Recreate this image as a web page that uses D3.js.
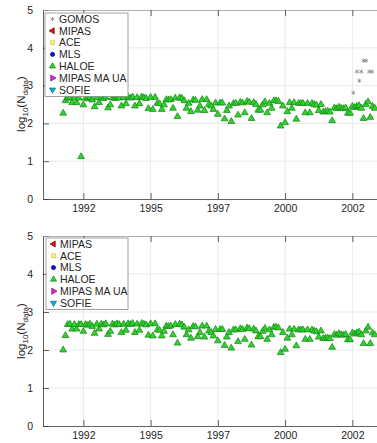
<!DOCTYPE html>
<html><head><meta charset="utf-8">
<script src="https://cdn.jsdelivr.net/npm/d3@7"></script>
<style>
body{margin:0;background:#fff}
text{font-family:"Liberation Sans",Arial,Helvetica,sans-serif;fill:#262626}
</style>
</head><body>
<svg id="c" width="377" height="443"></svg>
<script>
// ---------- data ----------
const haloeStart = 1991.75; // first HALOE month (Oct 1991), monthly values follow
const haloeTop = [
2.27,2.60,2.67,2.68,2.55,2.67,2.55,2.67,1.12,2.49,2.67,2.65,2.68,2.62,2.44,2.68,2.55,2.68,2.66,2.69,
2.41,2.49,2.68,2.66,2.69,2.67,2.46,2.68,2.52,2.69,2.67,2.70,2.46,2.68,2.52,2.70,2.68,2.66,2.39,2.69,
2.37,2.69,2.53,2.52,2.37,2.49,2.63,2.62,2.63,2.40,2.67,2.18,2.68,2.66,2.60,2.40,2.53,2.31,2.62,2.61,
2.35,2.46,2.63,2.34,2.63,2.50,2.46,2.37,2.54,2.24,2.54,2.54,2.12,2.34,2.46,2.05,2.53,2.53,2.22,2.56,
2.54,2.28,2.58,2.56,2.13,2.55,2.50,2.35,2.35,2.49,2.57,2.28,2.53,2.40,2.60,2.60,2.58,1.93,2.46,2.02,
2.31,2.55,2.40,2.55,2.11,2.53,2.53,2.53,2.28,2.53,2.28,2.53,2.50,2.48,2.34,2.50,2.30,2.31,2.32,2.30,
2.07,2.41,2.39,2.43,2.40,2.39,2.41,2.27,2.27,2.45,2.42,2.45,2.47,2.40,2.13,2.50,2.57,2.16,2.45,2.40
];
const haloeBottom = [
2.00,2.38,2.67,2.68,2.55,2.67,2.55,2.67,2.67,2.49,2.67,2.65,2.68,2.62,2.44,2.68,2.55,2.68,2.66,2.69,
2.41,2.49,2.68,2.66,2.69,2.67,2.46,2.68,2.52,2.69,2.67,2.70,2.46,2.68,2.52,2.70,2.68,2.66,2.39,2.69,
2.37,2.69,2.53,2.52,2.37,2.49,2.63,2.62,2.63,2.40,2.67,2.18,2.68,2.66,2.60,2.40,2.53,2.31,2.62,2.61,
2.35,2.46,2.63,2.34,2.63,2.50,2.46,2.37,2.54,2.24,2.54,2.54,2.12,2.34,2.46,2.05,2.53,2.53,2.22,2.56,
2.54,2.28,2.58,2.56,2.13,2.55,2.50,2.35,2.35,2.49,2.57,2.28,2.53,2.40,2.60,2.60,2.58,1.93,2.46,2.02,
2.31,2.55,2.40,2.55,2.11,2.53,2.53,2.53,2.28,2.53,2.28,2.53,2.50,2.48,2.34,2.50,2.30,2.31,2.32,2.30,
2.07,2.41,2.39,2.43,2.40,2.39,2.41,2.27,2.27,2.45,2.42,2.45,2.47,2.40,2.17,2.50,2.60,2.17,2.45,2.40
];
const gomosYears  = [2002.54, 2002.67, 2002.76, 2002.83, 2002.92, 2003.01, 2003.13, 2003.23];
const gomosValues = [2.81, 3.37, 3.13, 3.37, 3.66, 3.66, 3.37, 3.37];
const xTickValues = [1992.5, 1995, 1997.5, 2000, 2002.5];
const xTickLabels = ["1992", "1995", "1997", "2000", "2002"];
const yTickValues = [0, 1, 2, 3, 4, 5];
const legendTop    = ["GOMOS", "MIPAS", "ACE", "MLS", "HALOE", "MIPAS MA UA", "SOFIE"];
const legendBottom = ["MIPAS", "ACE", "MLS", "HALOE", "MIPAS MA UA", "SOFIE"];

// ---------- styles ----------
const markerStyle = {
  "GOMOS":       {shape:"asterisk", fill:"none",    stroke:"#6e6e6e"},
  "MIPAS":       {shape:"left",     fill:"#cc1a1a", stroke:"#8a0000"},
  "ACE":         {shape:"square",   fill:"#fff6a8", stroke:"#d6bc00"},
  "MLS":         {shape:"circle",   fill:"#1414d2", stroke:"#00008a"},
  "HALOE":       {shape:"up",       fill:"#33cf33", stroke:"#0b860b"},
  "MIPAS MA UA": {shape:"right",    fill:"#d22ed2", stroke:"#8a008a"},
  "SOFIE":       {shape:"down",     fill:"#22a9cc", stroke:"#006f8a"}
};
const rot = {up:0, right:90, down:180, left:270};

const svg = d3.select("#c");
const W = 377;
const xL = 43, pxPerYear = 26.9;
const x = d3.scaleLinear().domain([1991, 1991 + (W + 6 - xL) / pxPerYear]).range([xL, W + 6]);

const panels = [
  {top:10, bottom:199, halo:haloeTop, gomos:true, legend:legendTop, lg:{x:45, y:13, w:83}, labelY:104},
  {top:236, bottom:426, halo:haloeBottom, gomos:false, legend:legendBottom, lg:{x:46, y:238, w:82}, labelY:331}
];

function marker(g, name, cx, cy, size) {
  const s = markerStyle[name];
  let type, r = 0;
  if (s.shape === "asterisk") type = d3.symbolAsterisk;
  else if (s.shape === "square") type = d3.symbolSquare;
  else if (s.shape === "circle") type = d3.symbolCircle;
  else { type = d3.symbolTriangle; r = rot[s.shape]; }
  return g.append("path")
    .attr("d", d3.symbol().type(type).size(size)())
    .attr("transform", `translate(${cx},${cy}) rotate(${r})`)
    .attr("fill", s.fill).attr("stroke", s.stroke)
    .attr("stroke-width", s.shape === "asterisk" ? 0.6 : 0.7);
}

panels.forEach((p, pi) => {
  const y = d3.scaleLinear().domain([0, 5]).range([p.bottom, p.top]);
  const g = svg.append("g");
  const clipId = "clip" + pi;
  svg.append("clipPath").attr("id", clipId).append("rect")
    .attr("x", xL).attr("y", p.top - 4).attr("width", W - xL + 6).attr("height", p.bottom - p.top + 8);

  // grid
  g.append("g").selectAll("line").data(yTickValues.slice(1, -1)).join("line")
    .attr("x1", xL).attr("x2", W + 6).attr("y1", d => y(d)).attr("y2", d => y(d))
    .attr("stroke", "#e3e3e3").attr("stroke-width", 0.8);
  g.append("g").selectAll("line").data(xTickValues).join("line")
    .attr("x1", d => x(d)).attr("x2", d => x(d)).attr("y1", p.top).attr("y2", p.bottom)
    .attr("stroke", "#e3e3e3").attr("stroke-width", 0.8);

  // axes
  const yAxis = d3.axisLeft(y).tickValues(yTickValues).tickSizeInner(-6).tickSizeOuter(0).tickPadding(10).tickFormat(d3.format("d"));
  const ya = g.append("g").attr("transform", `translate(${xL},0)`).call(yAxis);
  const xAxis = d3.axisBottom(x).tickValues(xTickValues).tickSizeInner(-6).tickSizeOuter(0).tickPadding(6)
    .tickFormat((d, i) => xTickLabels[i]);
  const xa = g.append("g").attr("transform", `translate(0,${p.bottom})`).call(xAxis);
  const xTop = d3.axisTop(x).tickValues(xTickValues).tickSizeInner(-6).tickSizeOuter(0).tickFormat("");
  const xt = g.append("g").attr("transform", `translate(0,${p.top})`).call(xTop);
  [ya, xa, xt].forEach(a => {
    a.select(".domain").attr("stroke", "#3a3a3a").attr("stroke-width", 0.8);
    a.selectAll(".tick line").attr("stroke", "#3a3a3a").attr("stroke-width", 0.8);
    a.selectAll("text").attr("font-size", "10.5px").attr("fill", "#262626")
      .attr("font-family", "'Liberation Sans',Arial,Helvetica,sans-serif");
  });
  xt.select(".domain").attr("stroke", "#9a9a9a");

  // data
  const dg = g.append("g").attr("clip-path", `url(#${clipId})`);
  p.halo.forEach((v, i) => {
    marker(dg, "HALOE", x(haloeStart + i / 12), y(v), 20);
  });
  if (p.gomos) {
    gomosYears.forEach((t, i) => marker(dg, "GOMOS", x(t), y(gomosValues[i]), 14));
  }

  // y label
  const lab = g.append("text")
    .attr("transform", `translate(25,${p.labelY}) rotate(-90)`)
    .attr("text-anchor", "middle").attr("font-size", "11.5px");
  lab.append("tspan").text("log");
  lab.append("tspan").attr("font-size", "8px").attr("dy", 3).text("10");
  lab.append("tspan").attr("dy", -3).text("(N");
  lab.append("tspan").attr("font-size", "8px").attr("dy", 3).text("data");
  lab.append("tspan").attr("dy", -3).text(")");

  // legend
  const rowH = 11.8;
  const lg = g.append("g");
  lg.append("rect").attr("x", p.lg.x).attr("y", p.lg.y).attr("width", p.lg.w)
    .attr("height", p.legend.length * rowH + 0.8)
    .attr("fill", "#fff").attr("stroke", "#8a8a8a").attr("stroke-width", 0.8);
  p.legend.forEach((name, i) => {
    const cy = p.lg.y + 6 + i * rowH;
    const sz = {asterisk:12, square:14, circle:14}[markerStyle[name].shape] || 16;
    marker(lg, name, p.lg.x + 7.5, cy, sz);
    lg.append("text").attr("x", p.lg.x + 14).attr("y", cy + 3.8)
      .attr("font-size", "10.5px").text(name);
  });
});
</script>
</body></html>
